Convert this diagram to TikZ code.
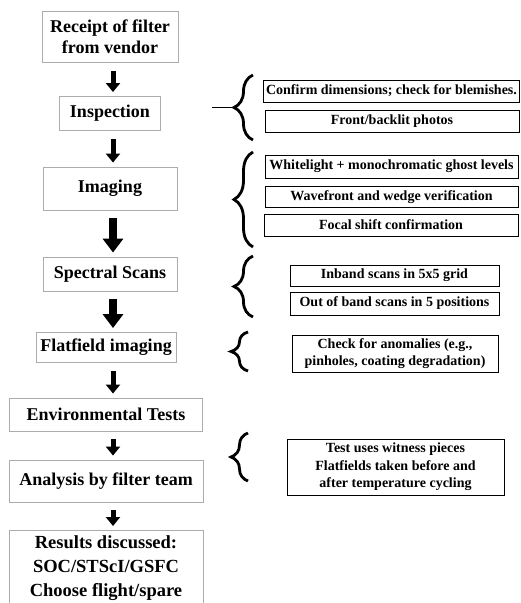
\documentclass[tikz,border=0pt]{standalone}
\usepackage{fontspec}
\setmainfont{Liberation Serif}
\usepackage{tikz}
\usetikzlibrary{arrows.meta,decorations.pathreplacing}

\begin{document}
\begin{tikzpicture}[x=1pt, y=-1pt,
    stage/.style={draw=gray!65, line width=0.9pt, align=center, inner sep=0pt,
        font=\bfseries\fontsize{18}{21}\selectfont},
    task/.style={draw=black, line width=0.8pt, align=center, inner sep=0pt,
        font=\bfseries\fontsize{14}{17.5}\selectfont},
    flow/.style={-{Triangle[width=14pt,length=9pt]}, line width=5pt,
        shorten <=8pt, shorten >=4pt},
    bigflow/.style={flow, -{Triangle[width=20pt,length=14pt]}, line width=7.5pt},
    group/.style={decorate, decoration={brace, amplitude=#1}, line width=2.8pt},
    group/.default=19pt
]
    \useasboundingbox (0,0) rectangle (520,603);
    \coordinate (spine) at (113,0);

    % Main steps
    \node[stage, minimum width=136pt, minimum height=51pt] (receipt) at (110,37) {Receipt of filter\\from vendor};
    \node[stage, minimum width=101pt, minimum height=34pt] (insp) at (110,113.5) {Inspection};
    \node[stage, minimum width=134pt, minimum height=43pt] (imaging) at (110,188.5) {Imaging};
    \node[stage, minimum width=134pt, minimum height=34pt] (spectral) at (110,274) {Spectral Scans};
    \node[stage, minimum width=140pt, minimum height=30pt] (flat) at (106,347.5) {Flatfield imaging};
    \node[stage, minimum width=193pt, minimum height=33pt] (env) at (106,414.5) {Environmental Tests};
    \node[stage, minimum width=194pt, minimum height=42pt] (analysis) at (106,481) {Analysis by filter team};
    \node[stage, anchor=north, minimum width=194pt, inner ysep=5pt,
        font=\bfseries\fontsize{18.5}{24}\selectfont] (results) at (106,530)
        {Results discussed:\\SOC/STScI/GSFC\\Choose flight/spare};

    % Flow arrows
    \draw[flow] (receipt.south -| spine) -- (insp.north -| spine);
    \draw[flow] (insp.south -| spine) -- (imaging.north -| spine);
    \draw[bigflow] (imaging.south -| spine) -- (spectral.north -| spine);
    \draw[bigflow] (spectral.south -| spine) -- (flat.north -| spine);
    \draw[flow] (flat.south -| spine) -- (env.north -| spine);
    \draw[flow] (env.south -| spine) -- (analysis.north -| spine);
    \draw[flow] (analysis.south -| spine) -- (results.north -| spine);

    % Inspection details
    \node[task, minimum width=256pt, minimum height=22pt] (dims) at (391.5,91) {Confirm dimensions; check for blemishes.};
    \node[task, minimum width=254pt, minimum height=22pt] (photos) at (392,121) {Front/backlit photos};
    \draw[group] (253,140) -- (253,75);
    \coordinate (insptip) at (234,107.5);
    \draw[line width=1.8pt] (212,107.5) -- (insptip);

    % Imaging details
    \node[task, minimum width=253pt, minimum height=23pt] (ghost) at (391.5,166.5) {Whitelight + monochromatic ghost levels};
    \node[task, minimum width=253pt, minimum height=21pt] (wedge) at (391.5,197) {Wavefront and wedge verification};
    \node[task, minimum width=254pt, minimum height=22pt] (focal) at (391,225) {Focal shift confirmation};
    \draw[group] (253,247) -- (253,152);

    % Spectral details
    \node[task, minimum width=209pt, minimum height=21pt] (inband) at (394.5,275.5) {Inband scans in 5x5 grid};
    \node[task, minimum width=209pt, minimum height=23pt] (outband) at (394.5,303.5) {Out of band scans in 5 positions};
    \draw[group] (253,317) -- (253,256);

    % Flatfield details
    \node[task, minimum width=206pt, minimum height=37pt] (anom) at (395,353.5) {Check for anomalies (e.g.,\\pinholes, coating degradation)};
    \draw[group=17pt] (248,371) -- (248,332);

    % Environmental details
    \node[task, minimum width=217pt, minimum height=56pt] (witness) at (395.5,467) {Test uses witness pieces\\Flatfields taken before and\\after temperature cycling};
    \draw[group=17pt] (248,481) -- (248,433);
\end{tikzpicture}
\end{document}
